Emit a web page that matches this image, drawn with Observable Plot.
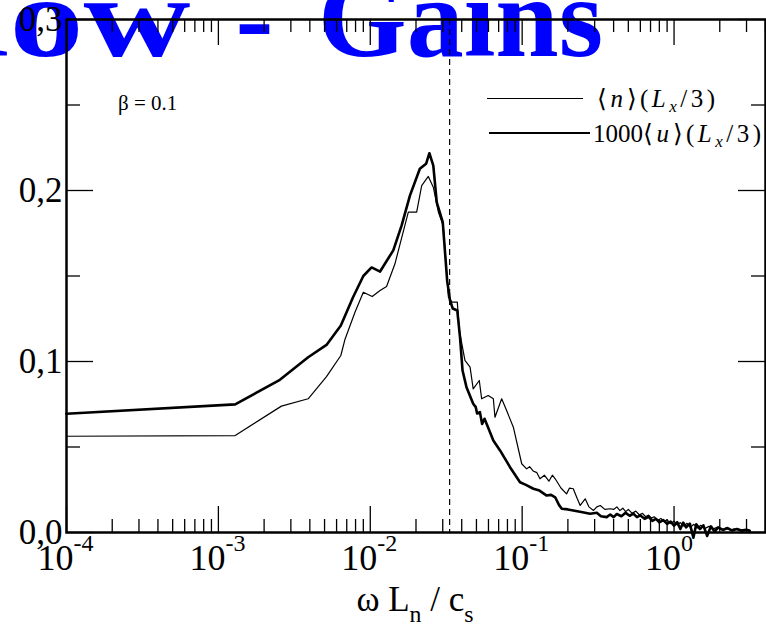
<!DOCTYPE html>
<html>
<head>
<meta charset="utf-8">
<script src="https://cdn.jsdelivr.net/npm/d3@7"></script>
<script src="https://cdn.jsdelivr.net/npm/@observablehq/plot@0.6"></script>
<style>
  body { margin: 0; background: #fff; }
  #wrap { position: relative; width: 766px; height: 630px; overflow: hidden; font-family: "Liberation Serif", serif; }
  #title { position: absolute; top: -39px; left: 0; font: bold 114px/1 "Liberation Serif", serif; color: #0000ff; white-space: nowrap; z-index: 0; word-spacing: 16px; }
  #tword { display: inline-block; transform: scaleX(1.3); transform-origin: right center; }
  #chart { position: absolute; left: 0; top: 0; z-index: 1; }
  .ov { position: absolute; z-index: 2; white-space: nowrap; color: #000; line-height: 1; }
  .m { letter-spacing: 3.5px; }
  .sub { position: relative; font-size: 0.68em; }
  .lg { position: absolute; z-index: 2; height: 0; border-top-style: solid; border-top-color: #000; }
</style>
</head>
<body>
<div id="wrap">
  <div id="title"><span id="tpre"><span id="tword">Flow</span> - </span><span>Gains</span></div>
  <div id="chart"></div>
  <div class="ov" id="beta" style="left:118px; top:93px; font-size:21px;">β = 0.1</div>
  <div class="lg" style="left:487px; top:98px; width:96px; border-top-width:1.2px;"></div>
  <div class="ov" style="left:597px; top:86px; font-size:25px;"><span class="m">⟨<i>n</i>⟩(<i>L</i><span class="sub" style="top:5px"><i>x</i></span>/3)</span></div>
  <div class="lg" style="left:489px; top:132px; width:101px; border-top-width:2.6px;"></div>
  <div class="ov" style="left:593px; top:121px; font-size:25px;">1000<span class="m">⟨<i>u</i>⟩(<i>L</i><span class="sub" style="top:5px"><i>x</i></span>/3)</span></div>
  <div class="ov" id="xlabel" style="left:215px; width:400px; text-align:center; top:582px; font-size:35px;">ω L<span class="sub" style="top:11px">n</span> / c<span class="sub" style="top:11px">s</span></div>
</div>
<script>
// ---- data ----
// <n>(Lx/3) : thin line
const nFreq = [0.0001, 0.00129, 0.0026, 0.0039, 0.00515, 0.0064, 0.0068, 0.00793, 0.009, 0.0103, 0.0116, 0.0128, 0.01452,
  0.0178, 0.0202, 0.0218, 0.0241, 0.026, 0.0281, 0.0302, 0.0327, 0.0345, 0.0374, 0.0386, 0.042, 0.0454, 0.0476, 0.0522,
  0.0541, 0.0598, 0.0646, 0.0662, 0.0733, 0.079, 0.0875, 0.0993, 0.107, 0.112, 0.118, 0.125, 0.131, 0.14, 0.15, 0.158,
  0.165, 0.18, 0.196, 0.205, 0.217, 0.23, 0.241, 0.26, 0.275, 0.295, 0.31, 0.327, 0.35, 0.38,
  0.40, 0.42, 0.44, 0.46, 0.48, 0.50, 0.53, 0.56, 0.59, 0.62, 0.65, 0.68, 0.71, 0.74, 0.78, 0.82, 0.86, 0.90, 0.95, 1.0,
  1.05, 1.1, 1.16, 1.22, 1.28, 1.35, 1.42, 1.5, 1.6, 1.7, 1.8, 1.92, 2.05, 2.2, 2.35, 2.5, 2.7, 2.9, 3.15];
const nGain = [0.0563, 0.0567, 0.0739, 0.0782, 0.0912, 0.1035, 0.1127, 0.1288, 0.1405, 0.138, 0.1415, 0.1439, 0.157,
  0.1873, 0.1873, 0.2029, 0.2082, 0.2019, 0.1873, 0.1795, 0.1376, 0.1347, 0.1347, 0.118, 0.1006, 0.0967, 0.084, 0.0889,
  0.0782, 0.0801, 0.0782, 0.0674, 0.0782, 0.0713, 0.0616, 0.0402, 0.0372, 0.0385, 0.036, 0.035, 0.0314, 0.0335, 0.030, 0.0335,
  0.0314, 0.026, 0.0226, 0.026, 0.0256, 0.020, 0.0158, 0.0197, 0.015, 0.0129, 0.0150, 0.0158, 0.0135, 0.0139,
  0.0135, 0.0150, 0.0128, 0.0142, 0.0122, 0.0135, 0.0112, 0.0125, 0.0104, 0.0112, 0.0092, 0.0102, 0.0084, 0.0092, 0.0072,
  0.0082, 0.0064, 0.0074, 0.0052, 0.0066, 0.0044, 0.0058, 0.0038, 0.0054, 0.0030, 0.0048, 0.0026, 0.0042, 0.0024, 0.0036,
  0.0020, 0.0030, 0.0016, 0.0026, 0.0014, 0.0022, 0.0012, 0.0018, 0.0012];

// 1000<u>(Lx/3) : thick line
const uFreq = [0.0001, 0.00129, 0.00254, 0.0039, 0.00515, 0.0064, 0.0077, 0.009, 0.0102, 0.0116, 0.01417, 0.01607, 0.01824,
  0.0212, 0.0233, 0.0245, 0.026, 0.0274, 0.030, 0.0321, 0.0335, 0.0349, 0.0374, 0.039, 0.0405, 0.043, 0.0476, 0.0495,
  0.0505, 0.0527, 0.0545, 0.0565, 0.0584, 0.0646, 0.0715, 0.0832, 0.0968, 0.105, 0.1186, 0.13, 0.145, 0.155, 0.165, 0.175,
  0.1824, 0.2, 0.217, 0.25, 0.28, 0.31, 0.33, 0.36,
  0.38, 0.40, 0.42, 0.45, 0.48, 0.51, 0.54, 0.57, 0.60, 0.64, 0.68, 0.72, 0.76, 0.80, 0.85, 0.90, 0.95, 1.0, 1.05, 1.1,
  1.15, 1.2, 1.27, 1.34, 1.4, 1.48, 1.56, 1.65, 1.75, 1.85, 1.95, 2.1, 2.25, 2.4, 2.6, 2.8, 3.0, 3.15];
const uGain = [0.0694, 0.0749, 0.0893, 0.1025, 0.1097, 0.121, 0.1376, 0.150, 0.155, 0.1526, 0.165, 0.1795, 0.197,
  0.2127, 0.2156, 0.2218, 0.2146, 0.193, 0.1815, 0.147, 0.1357, 0.131, 0.1298, 0.114, 0.0947, 0.085, 0.0753, 0.0733,
  0.0696, 0.0704, 0.0635, 0.0665, 0.0635, 0.0538, 0.048, 0.0382, 0.0294, 0.028, 0.0256, 0.0245, 0.0216, 0.022, 0.0206, 0.016,
  0.0139, 0.0135, 0.0129, 0.0118, 0.011, 0.0115, 0.0095, 0.009,
  0.0105, 0.0090, 0.0108, 0.0095, 0.0115, 0.0098, 0.0110, 0.0090, 0.0100, 0.0080, 0.0092, 0.0068, 0.0080, 0.0060, 0.0072,
  0.0050, 0.0064, 0.0040, 0.0060, 0.0020, 0.0058, 0.0030, 0.0052, -0.0030, 0.0048, 0.0020, 0.0042, -0.0020, 0.0036, 0.0005,
  0.0030, 0.0015, 0.0026, 0.0012, 0.0020, 0.0010, 0.0016, 0.0010];

const cutoff = [0.0333];
const xMajor = [1e-4, 1e-3, 1e-2, 1e-1, 1];
const xMultipliers = [2, 3, 4, 5, 6, 7, 8, 9];
const yMajor = [0, 0.1, 0.2, 0.3];
const yMinor = [0.05, 0.15, 0.25];

// ---- build ----
const nData = nFreq.map((x, i) => ({x, y: nGain[i]}));
const uData = uFreq.map((x, i) => ({x, y: uGain[i]}));
const xMinor = [];
for (const d of xMajor) for (const m of xMultipliers) if (m * d <= 4) xMinor.push(m * d);

const W = 766, H = 630, mL = 66, mR = 1, mT = 19, mB = 98;
const fw = W - mL - mR, fh = H - mT - mB;
const font = "Liberation Serif";

const chart = Plot.plot({
  width: W, height: H,
  marginLeft: mL, marginRight: mR, marginTop: mT, marginBottom: mB,
  x: {type: "log", domain: [1e-4, 4], axis: null},
  y: {domain: [0, 0.3], axis: null},
  style: {background: "transparent", overflow: "visible", fontFamily: font, color: "#000"},
  marks: [
    Plot.ruleX(cutoff, {x: d => d, stroke: "#000", strokeWidth: 1.2, strokeDasharray: "6,4"}),
    Plot.line(nData, {x: "x", y: "y", stroke: "#000", strokeWidth: 1.2}),
    Plot.line(uData, {x: "x", y: "y", stroke: "#000", strokeWidth: 2.6}),
    Plot.tickX(xMajor, {x: d => d, insetTop: fh - 26, stroke: "#000", strokeWidth: 1.3}),
    Plot.tickX(xMajor, {x: d => d, insetBottom: fh - 26, stroke: "#000", strokeWidth: 1.3}),
    Plot.tickX(xMinor, {x: d => d, insetTop: fh - 13, stroke: "#000", strokeWidth: 1.3}),
    Plot.tickX(xMinor, {x: d => d, insetBottom: fh - 13, stroke: "#000", strokeWidth: 1.3}),
    Plot.tickY(yMajor, {y: d => d, insetRight: fw - 27, stroke: "#000", strokeWidth: 1.3}),
    Plot.tickY(yMajor, {y: d => d, insetLeft: fw - 27, stroke: "#000", strokeWidth: 1.3}),
    Plot.tickY(yMinor, {y: d => d, insetRight: fw - 14, stroke: "#000", strokeWidth: 1.3}),
    Plot.tickY(yMinor, {y: d => d, insetLeft: fw - 14, stroke: "#000", strokeWidth: 1.3}),
    Plot.frame({stroke: "#000", strokeWidth: 2.5}),
    Plot.text(yMajor, {y: d => d, frameAnchor: "left", textAnchor: "end", dx: -4,
      text: d => d.toFixed(1).replace(".", ","), fontSize: 35, fill: "#000", fontFamily: font}),
    Plot.text(xMajor, {x: d => d, frameAnchor: "bottom", textAnchor: "end", dx: 7, dy: 37,
      text: () => "10", fontSize: 36, fill: "#000", fontFamily: font}),
    Plot.text(xMajor, {x: d => d, frameAnchor: "bottom", textAnchor: "start", dx: 7, dy: 18,
      text: d => String(Math.round(Math.log10(d))), fontSize: 24, fill: "#000", fontFamily: font})
  ]
});
document.getElementById("chart").appendChild(chart);

// place title so that "Gains" begins at x = 318
const pre = document.getElementById("tpre").getBoundingClientRect().width;
document.getElementById("title").style.left = (318 - pre) + "px";
</script>
</body>
</html>
